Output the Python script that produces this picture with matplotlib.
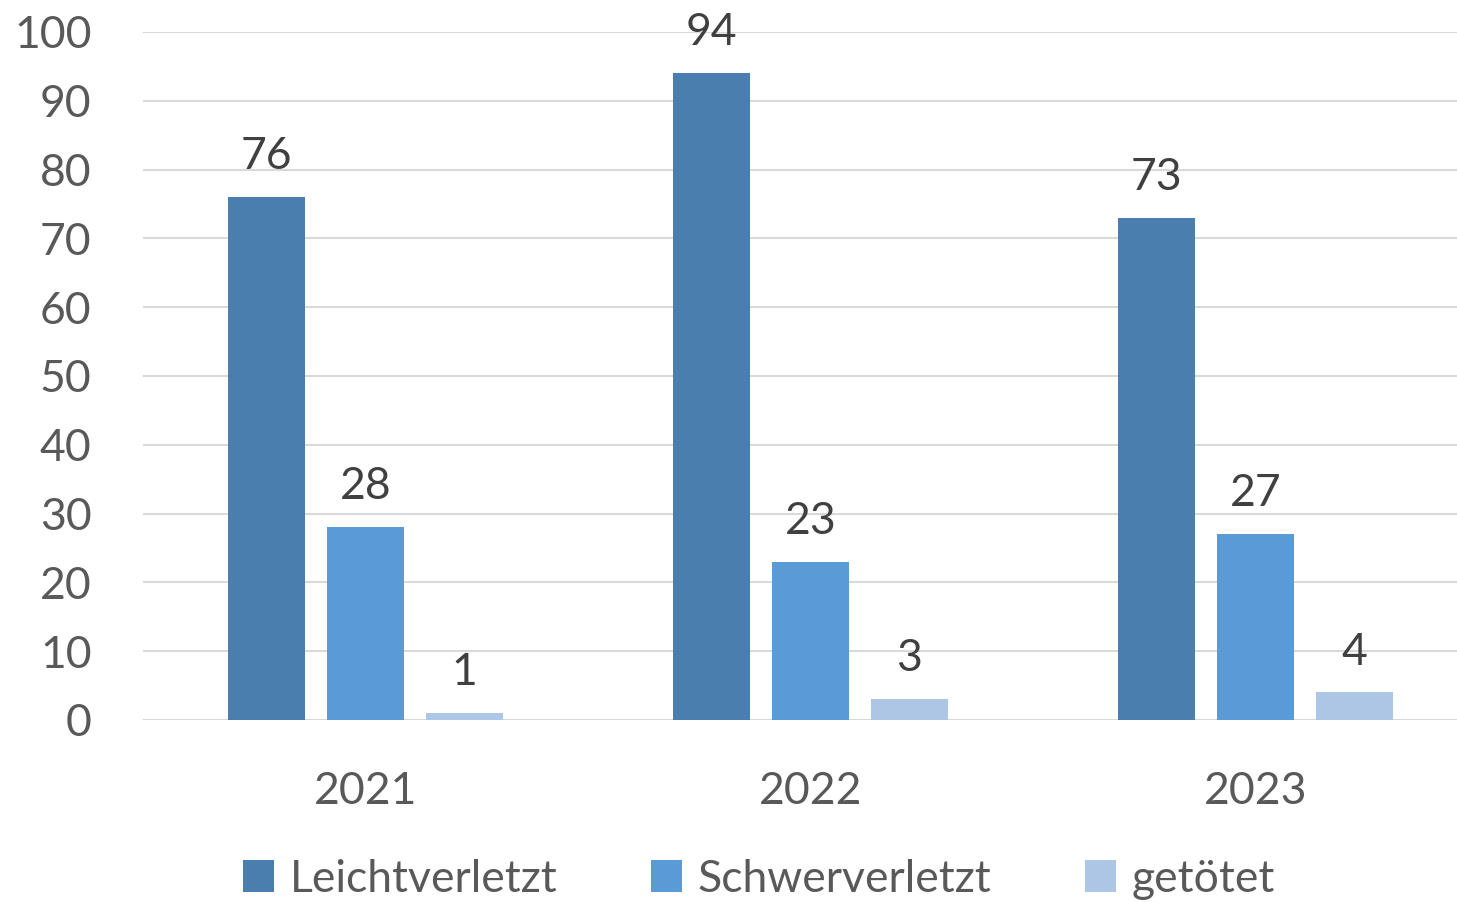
import matplotlib
matplotlib.use("Agg")
import matplotlib.pyplot as plt
import numpy as np

years = ["2021", "2022", "2023"]
series_names = ["Leichtverletzt", "Schwerverletzt", "getötet"]
leicht = [76, 94, 73]
schwer = [28, 23, 27]
getoetet = [1, 3, 4]
colors = ["#4A7EAF", "#5B9BD5", "#ADC6E5"]
yticks = [0, 10, 20, 30, 40, 50, 60, 70, 80, 90, 100]

plt.rcParams['font.family'] = ['Lato', 'DejaVu Sans']
FS = 32

fig = plt.figure(figsize=(14.57, 9.02), dpi=100)
ax = fig.add_axes([143/1457, 182/902, 1335/1457, 688/902])

x = np.arange(len(years))
w = 77/445
off = 99/445
for i, (vals, name) in enumerate(zip([leicht, schwer, getoetet], series_names)):
    pos = x + (i - 1) * off
    bars = ax.bar(pos, vals, width=w, color=colors[i], label=name, zorder=3)
    for b, v in zip(bars, vals):
        ax.text(b.get_x() + b.get_width()/2, v + 2.9, str(v), ha='center', va='bottom',
                fontsize=FS, color='#404040')

ax.set_xlim(-0.5, 2.5)
ax.set_ylim(0, 100)
ax.set_yticks(yticks)
ax.set_yticklabels([str(t) for t in yticks])
ax.set_xticks(x)
ax.set_xticklabels(years)
ax.tick_params(axis='both', length=0, labelsize=FS, colors='#595959')
ax.tick_params(axis='y', pad=37)
ax.tick_params(axis='x', pad=37)
for s in ax.spines.values():
    s.set_visible(False)
ax.grid(axis='y', color='#D9D9D9', linewidth=1.5, zorder=0)
ax.set_axisbelow(True)

handles, labels = ax.get_legend_handles_labels()
fig.legend(handles, labels, loc='center', bbox_to_anchor=(759/1457, 1 - 879/902), ncol=3,
           frameon=False, fontsize=FS, labelcolor='#595959', handlelength=0.7,
           handleheight=0.7, handletextpad=0.35, columnspacing=2.1)

fig.savefig("out.png", dpi=100)
